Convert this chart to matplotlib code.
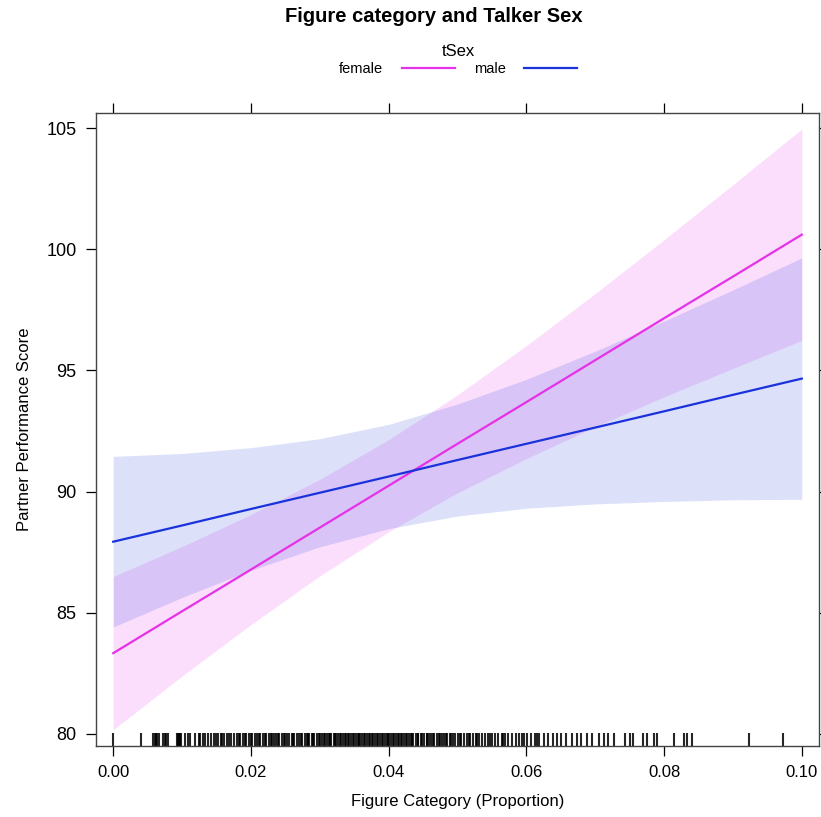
import numpy as np
import matplotlib
matplotlib.use("Agg")
import matplotlib.pyplot as plt
from matplotlib.lines import Line2D

plt.rcParams["font.family"] = ["Liberation Sans", "DejaVu Sans"]

# ─────────────────────────────────────────────
# Data
# ─────────────────────────────────────────────

x_pts = [0.00, 0.01, 0.02, 0.03, 0.04, 0.05, 0.06, 0.07, 0.08, 0.09, 0.10]

female_fit = [83.33, 85.06, 86.78, 88.51, 90.24, 91.97, 93.69, 95.42, 97.15, 98.87, 100.60]
female_lo  = [80.17, 82.39, 84.51, 86.52, 88.34, 89.95, 91.36, 92.67, 93.91, 95.08, 96.24]
female_hi  = [86.49, 87.73, 89.05, 90.50, 92.14, 93.99, 96.02, 98.17, 100.39, 102.66, 104.96]

male_fit = [87.93, 88.60, 89.28, 89.95, 90.62, 91.30, 91.97, 92.64, 93.31, 93.99, 94.66]
male_lo  = [84.41, 85.63, 86.75, 87.72, 88.47, 88.99, 89.31, 89.49, 89.59, 89.66, 89.68]
male_hi  = [91.45, 91.57, 91.81, 92.18, 92.77, 93.61, 94.63, 95.79, 97.03, 98.32, 99.64]

# observed values of Figure Category (rug)
rug_x = [
    0.0000, 0.0040,
    0.0058, 0.0060, 0.0062, 0.0064, 0.0066, 0.0072, 0.0075, 0.0077, 0.0079,
    0.0092, 0.0094, 0.0095, 0.0097, 0.0099, 0.0104, 0.0108, 0.0111, 0.0119,
    0.0124, 0.0126, 0.0131, 0.0134, 0.0137, 0.0142, 0.0146, 0.0149,
    0.0152, 0.0156, 0.0158, 0.0161, 0.0165, 0.0168, 0.0171, 0.0176, 0.0180,
    0.0182, 0.0184, 0.0189, 0.0191, 0.0193, 0.0197, 0.0200, 0.0202, 0.0206,
    0.0209, 0.0211, 0.0213, 0.0218, 0.0220, 0.0222, 0.0226, 0.0229, 0.0231,
    0.0233, 0.0237, 0.0239, 0.0241, 0.0245, 0.0248, 0.0250, 0.0252, 0.0256,
    0.0259, 0.0261, 0.0263, 0.0267, 0.0270, 0.0272, 0.0274, 0.0278, 0.0281,
    0.0283, 0.0285, 0.0288, 0.0290, 0.0292, 0.0296, 0.0299, 0.0301, 0.0303,
    0.0306, 0.0308, 0.0310, 0.0313, 0.0315, 0.0317, 0.0320, 0.0322, 0.0324,
    0.0327, 0.0329, 0.0331, 0.0334, 0.0336, 0.0338, 0.0341, 0.0343, 0.0345,
    0.0348, 0.0350, 0.0352, 0.0355, 0.0357, 0.0359, 0.0362, 0.0364, 0.0366,
    0.0369, 0.0371, 0.0373, 0.0376, 0.0378, 0.0380, 0.0383, 0.0385, 0.0387,
    0.0390, 0.0392, 0.0394, 0.0397, 0.0399, 0.0401, 0.0404, 0.0406, 0.0408,
    0.0411, 0.0413, 0.0415, 0.0418, 0.0420, 0.0422, 0.0425, 0.0427, 0.0429,
    0.0432, 0.0434, 0.0436, 0.0440, 0.0442, 0.0443, 0.0447, 0.0449, 0.0451,
    0.0455, 0.0456, 0.0458, 0.0462, 0.0464, 0.0466, 0.0470, 0.0473, 0.0475,
    0.0477, 0.0481, 0.0483, 0.0485, 0.0489, 0.0491, 0.0493, 0.0497, 0.0501,
    0.0503, 0.0505, 0.0509, 0.0514, 0.0516, 0.0518, 0.0523, 0.0527, 0.0529,
    0.0531, 0.0536, 0.0540, 0.0545, 0.0547, 0.0550, 0.0554, 0.0559, 0.0564,
    0.0566, 0.0569, 0.0574, 0.0579, 0.0585, 0.0590, 0.0593, 0.0596, 0.0601,
    0.0607, 0.0613, 0.0616, 0.0619, 0.0625, 0.0631, 0.0638, 0.0644, 0.0651,
    0.0658,
    0.0666, 0.0673, 0.0680, 0.0688, 0.0696, 0.0706, 0.0713, 0.0719, 0.0727,
    0.0743, 0.0750, 0.0755, 0.0770, 0.0775, 0.0785, 0.0790, 0.0814, 0.0829,
    0.0834, 0.0841, 0.0923, 0.0972,
]

x_ticks = [0.00, 0.02, 0.04, 0.06, 0.08, 0.10]
y_ticks = [80, 85, 90, 95, 100, 105]

FEMALE_COL = "#e532e8"
MALE_COL   = "#1a32dc"

# ─────────────────────────────────────────────
# Plot
# ─────────────────────────────────────────────

fig = plt.figure(figsize=(8.21, 8.17), dpi=100)
ax = fig.add_axes([96 / 821, 71 / 817, 723 / 821, 633 / 817])

ax.fill_between(x_pts, female_lo, female_hi, color=FEMALE_COL, alpha=0.16,
                linewidth=0)
ax.fill_between(x_pts, male_lo, male_hi, color=MALE_COL, alpha=0.15,
                linewidth=0)
ax.plot(x_pts, female_fit, color=FEMALE_COL, linewidth=1.6)
ax.plot(x_pts, male_fit, color=MALE_COL, linewidth=1.6)

# rug along the bottom
ax.vlines(rug_x, 0, 0.02, transform=ax.get_xaxis_transform(),
          color="black", linewidth=1.5, alpha=0.85)

ax.set_xlim(-0.0025, 0.1025)
ax.set_ylim(79.5, 105.62)
ax.set_xticks(x_ticks)
ax.set_xticklabels([f"{v:.2f}" for v in x_ticks])
ax.set_yticks(y_ticks)
ax.set_yticklabels([str(v) for v in y_ticks])

ax.tick_params(direction="out", length=7, width=0.9, labelsize=12,
               top=True, right=True, labeltop=False, labelright=False)
ax.tick_params(axis="x", pad=7)
ax.tick_params(axis="y", pad=7, labelsize=13)
for s in ax.spines.values():
    s.set_color("#444444")
    s.set_linewidth(1.0)

ax.set_xlabel("Figure Category (Proportion)", fontsize=12, labelpad=10)
ax.set_ylabel("Partner Performance Score", fontsize=12, labelpad=10)

fig.text(434 / 821, 1 - 17 / 817, "Figure category and Talker Sex",
         ha="center", va="center", fontsize=14.5, fontweight="bold")

handles = [Line2D([], [], color=FEMALE_COL, linewidth=1.6),
           Line2D([], [], color=MALE_COL, linewidth=1.6)]
leg = fig.legend(handles, ["female", "male"], ncol=2, title="tSex",
                 markerfirst=False, frameon=False, loc="upper center",
                 bbox_to_anchor=(458 / 821, 1 - 37 / 817), fontsize=10.5,
                 title_fontsize=12, handlelength=3.6, handletextpad=1.3,
                 columnspacing=1.3, borderpad=0, labelspacing=0.2)
leg._legend_box.sep = 2

fig.savefig("out.png", dpi=100)
